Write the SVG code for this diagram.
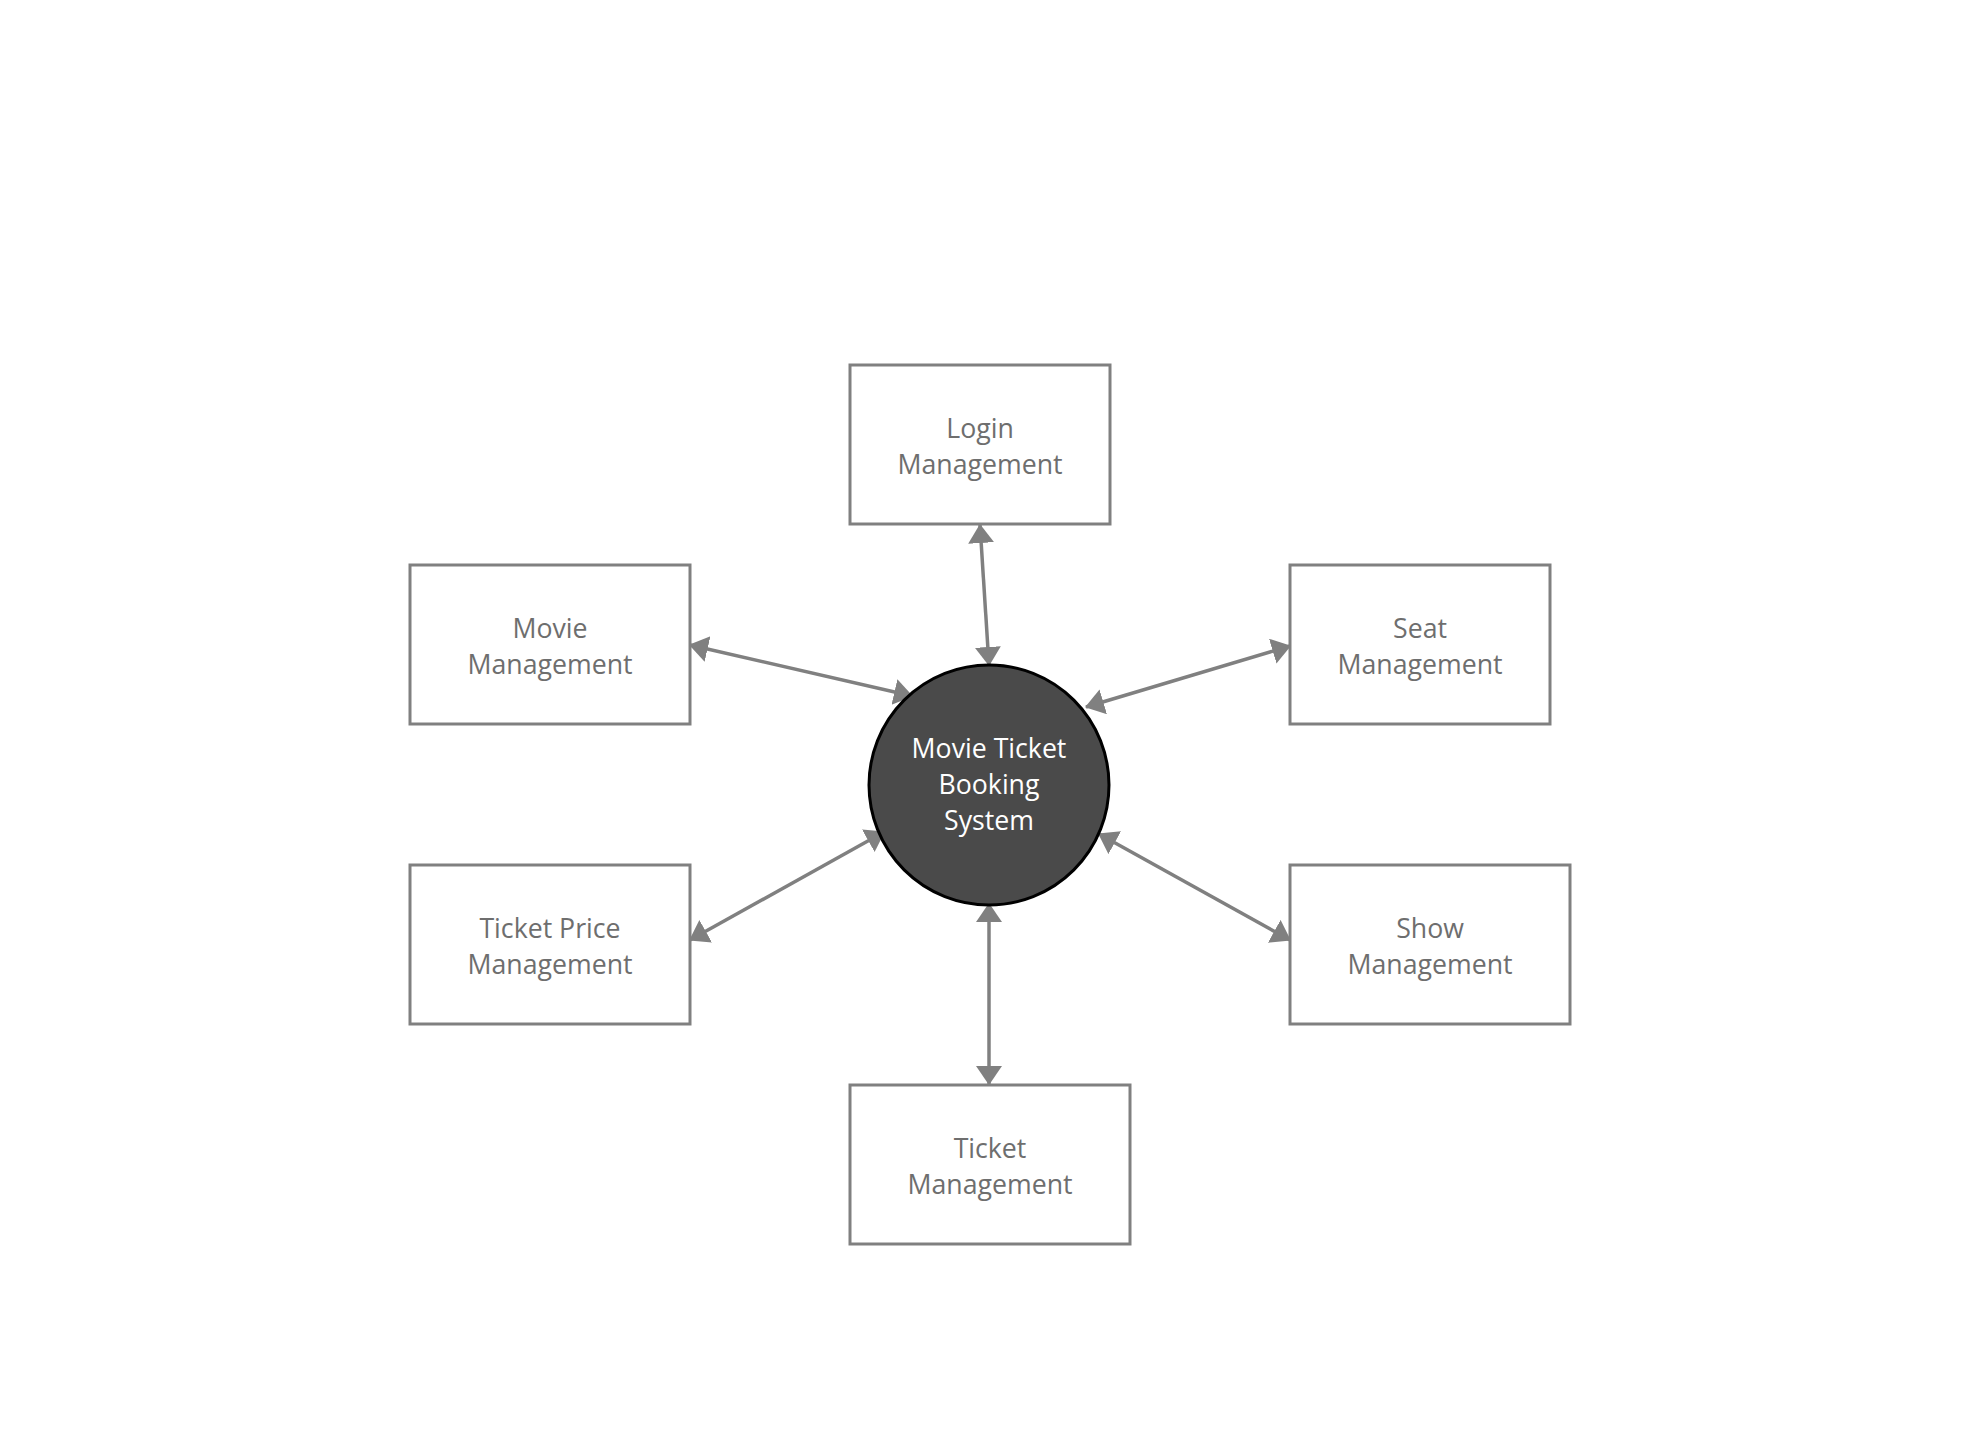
<svg xmlns="http://www.w3.org/2000/svg" width="1971" height="1448" viewBox="0 0 1971 1448">
<defs>
<style>
.box{fill:#ffffff;stroke:#808080;stroke-width:3}
.lbl{font-family:"Open Sans","Noto Sans",sans-serif;font-size:26.7px;fill:#6e6e6e;text-anchor:middle}
.clbl{font-family:"Open Sans","Noto Sans",sans-serif;font-size:26.7px;fill:#ffffff;text-anchor:middle}
.conn{stroke:#808080;stroke-width:3.5;fill:none;marker-start:url(#arr);marker-end:url(#arr)}
</style>
<marker id="arr" markerUnits="userSpaceOnUse" markerWidth="20" markerHeight="28" refX="18" refY="13" orient="auto-start-reverse">
<path d="M0,0 L19,13 L0,26 z" fill="#808080"/>
</marker>
</defs>
<rect width="1971" height="1448" fill="#ffffff"/>
<g id="connectors">
<line class="conn" x1="980" y1="525" x2="989" y2="665"/>
<line class="conn" x1="690" y1="645" x2="912" y2="696"/>
<line class="conn" x1="1290" y1="646" x2="1086" y2="707"/>
<line class="conn" x1="690" y1="940" x2="884" y2="832"/>
<line class="conn" x1="1290" y1="940" x2="1099" y2="834"/>
<line class="conn" x1="989" y1="904" x2="989" y2="1084"/>
</g>
<g id="node-center">
<circle cx="989" cy="785" r="120" fill="#4a4a4a" stroke="#000000" stroke-width="3"/>
<text class="clbl" x="989" y="758">Movie Ticket</text>
<text class="clbl" x="989" y="794">Booking</text>
<text class="clbl" x="989" y="830">System</text>
</g>
<g id="node-login">
<rect class="box" x="850" y="365" width="260" height="159"/>
<text class="lbl" x="980" y="438">Login</text>
<text class="lbl" x="980" y="474">Management</text>
</g>
<g id="node-movie">
<rect class="box" x="410" y="565" width="280" height="159"/>
<text class="lbl" x="550" y="638">Movie</text>
<text class="lbl" x="550" y="674">Management</text>
</g>
<g id="node-seat">
<rect class="box" x="1290" y="565" width="260" height="159"/>
<text class="lbl" x="1420" y="638">Seat</text>
<text class="lbl" x="1420" y="674">Management</text>
</g>
<g id="node-ticketprice">
<rect class="box" x="410" y="865" width="280" height="159"/>
<text class="lbl" x="550" y="938">Ticket Price</text>
<text class="lbl" x="550" y="974">Management</text>
</g>
<g id="node-show">
<rect class="box" x="1290" y="865" width="280" height="159"/>
<text class="lbl" x="1430" y="938">Show</text>
<text class="lbl" x="1430" y="974">Management</text>
</g>
<g id="node-ticket">
<rect class="box" x="850" y="1085" width="280" height="159"/>
<text class="lbl" x="990" y="1158">Ticket</text>
<text class="lbl" x="990" y="1194">Management</text>
</g>
</svg>
